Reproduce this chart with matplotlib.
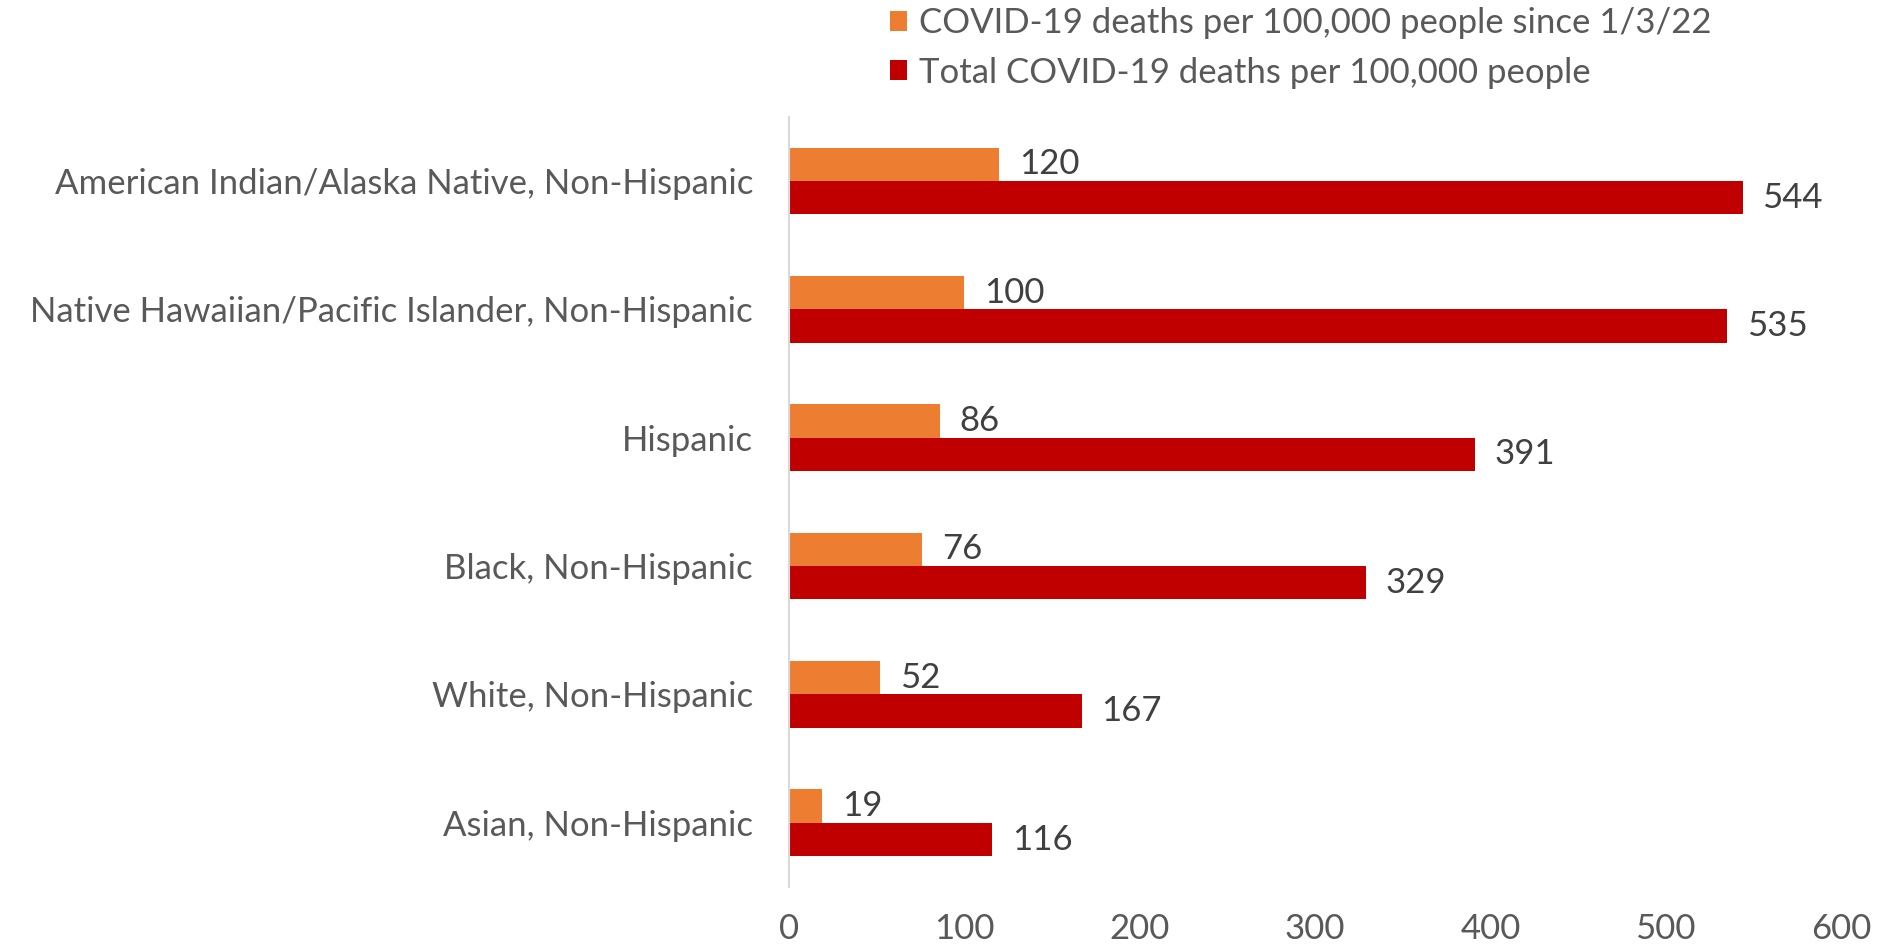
import matplotlib
matplotlib.use("Agg")
import matplotlib.pyplot as plt
import numpy as np

categories = [
    "American Indian/Alaska Native, Non-Hispanic",
    "Native Hawaiian/Pacific Islander, Non-Hispanic",
    "Hispanic",
    "Black, Non-Hispanic",
    "White, Non-Hispanic",
    "Asian, Non-Hispanic",
]
since_2022 = [120, 100, 86, 76, 52, 19]
total = [544, 535, 391, 329, 167, 116]
series_names = [
    "COVID-19 deaths per 100,000 people since 1/3/22",
    "Total COVID-19 deaths per 100,000 people",
]
xticks = [0, 100, 200, 300, 400, 500, 600]

plt.rcParams['font.family'] = ['Lato', 'DejaVu Sans']
ORANGE = "#ED7D31"
RED = "#C00000"
GREY = "#595959"
FS = 25

fig = plt.figure(figsize=(18.8, 9.5), dpi=100)
ax = fig.add_axes([0.4197, 0.0663, 0.5596, 0.8107])

y = np.arange(len(categories))
h = 0.26
b1 = ax.barh(y - h / 2, since_2022, height=h, color=ORANGE, label=series_names[0])
b2 = ax.barh(y + h / 2, total, height=h, color=RED, label=series_names[1])

for bars, vals in ((b1, since_2022), (b2, total)):
    for rect, v in zip(bars, vals):
        ax.annotate(str(v), (rect.get_width(), rect.get_y() + rect.get_height() / 2),
                    xytext=(14, 0), textcoords="offset points", ha="left", va="center",
                    fontsize=FS, color="#404040")

ax.set_ylim(len(categories) - 0.5, -0.5)
ax.set_xlim(0, 600)
ax.set_yticks(y)
ax.set_yticklabels(categories, fontsize=FS, color=GREY)
ax.set_xticks(xticks)
ax.set_xticklabels([str(t) for t in xticks], fontsize=FS, color=GREY)
ax.tick_params(axis="both", length=0)
ax.tick_params(axis="y", pad=26)
ax.tick_params(axis="x", pad=19)
for s in ("top", "right", "bottom"):
    ax.spines[s].set_visible(False)
ax.spines["left"].set_color("#D9D9D9")
ax.spines["left"].set_linewidth(1.5)

fig.legend(handles=[b1, b2], labels=series_names, loc="upper left",
           bbox_to_anchor=(0.466, 1.007), frameon=False, fontsize=FS,
           labelcolor=GREY, handlelength=0.5, handleheight=0.5,
           handletextpad=0.35, labelspacing=0.5, borderaxespad=0.0)

fig.savefig("out.png", dpi=100)
